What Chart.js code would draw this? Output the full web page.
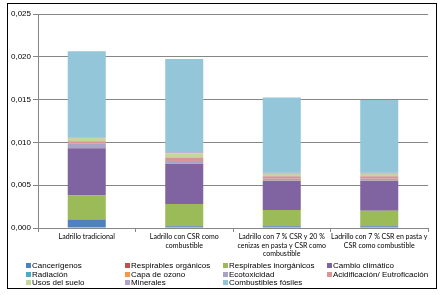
<!DOCTYPE html>
<html>
<head>
<meta charset="utf-8">
<script src="https://cdn.jsdelivr.net/npm/chart.js@4"></script>
<style>
  html, body { margin: 0; padding: 0; background: #fff; }
  #frame {
    position: absolute; left: 7px; top: 3px; width: 430px; height: 286px;
    border: 1px solid #000; box-sizing: border-box;
  }
  #wrap { position: absolute; left: 8px; top: 4px; width: 430px; height: 261px; }
  #legend {
    position: absolute; left: 0; top: 261px; width: 446px;
    font: 8px "Liberation Sans", Arial, sans-serif; color: #000;
  }
  .item { position: absolute; white-space: nowrap; line-height: 9px; }
  .item span.box { display: inline-block; width: 5px; height: 5px; margin-right: 1px; vertical-align: 0px; }
</style>
</head>
<body>
<div id="frame"></div>
<div id="wrap"><canvas id="chart"></canvas></div>
<div id="legend"></div>
<script>
const categories = [
  'Ladrillo tradicional',
  ['Ladrillo con CSR como', 'combustible'],
  ['Ladrillo con 7 % CSR y 20 %', 'cenizas en pasta y CSR como', 'combustible'],
  ['Ladrillo con 7 % CSR en pasta y', 'CSR como combustible']
];

const seriesNames = [
  'Cancerígenos', 'Respirables orgánicos', 'Respirables inorgánicos', 'Cambio climático',
  'Radiación', 'Capa de ozono', 'Ecotoxicidad', 'Acidificación/ Eutroficación',
  'Usos del suelo', 'Minerales', 'Combustibles fósiles'
];

const seriesColors = [
  '#4F81BD', '#C0504D', '#9BBB59', '#8064A2',
  '#4BACC6', '#F79646', '#A9A3C6', '#D99694',
  '#C3D69B', '#B3A2C7', '#93C6D9'
];

const cancerigenos = [0.0010, 0.0002, 0.0002, 0.0002];
const respOrganicos = [0.00001, 0.00001, 0.00001, 0.00001];
const respInorganicos = [0.0028, 0.0026, 0.0019, 0.0018];
const cambioClimatico = [0.0055, 0.0047, 0.0034, 0.0035];
const radiacion = [0.00002, 0.00002, 0.00002, 0.00002];
const capaOzono = [0.00001, 0.00001, 0.00001, 0.00001];
const ecotoxicidad = [0.0005, 0.0003, 0.0002, 0.0002];
const acidificacion = [0.0003, 0.0004, 0.0003, 0.0003];
const usosSuelo = [0.0004, 0.0005, 0.0003, 0.0003];
const minerales = [0.0001, 0.0001, 0.0001, 0.0001];
const combustiblesFosiles = [0.0100, 0.0109, 0.0088, 0.0085];

const seriesValues = [
  cancerigenos, respOrganicos, respInorganicos, cambioClimatico,
  radiacion, capaOzono, ecotoxicidad, acidificacion,
  usosSuelo, minerales, combustiblesFosiles
];

const yTicks = [0, 0.005, 0.010, 0.015, 0.020, 0.025];

const gridColor = '#868686';

new Chart(document.getElementById('chart'), {
  type: 'bar',
  data: {
    labels: categories,
    datasets: seriesNames.map((name, i) => ({
      label: name,
      data: seriesValues[i],
      backgroundColor: seriesColors[i],
      borderWidth: 0,
      barPercentage: 0.39,
      categoryPercentage: 1
    }))
  },
  options: {
    responsive: true,
    maintainAspectRatio: false,
    animation: false,
    layout: { padding: { top: 10, right: 10, bottom: 0, left: 0 } },
    plugins: {
      legend: { display: false },
      tooltip: { enabled: false }
    },
    scales: {
      x: {
        stacked: true,
        afterFit: (s) => { s.height = 37; },
        grid: { display: true, drawOnChartArea: false, offset: true, tickLength: 4, color: gridColor },
        border: { color: gridColor },
        ticks: {
          color: '#000',
          font: { family: 'Lato', size: 7 },
          maxRotation: 0,
          autoSkip: false,
          padding: 1
        }
      },
      y: {
        stacked: true,
        min: 0,
        max: 0.025,
        afterFit: (s) => { s.width = 30; },
        afterBuildTicks: (s) => { s.ticks = yTicks.map(v => ({ value: v })); },
        grid: { color: gridColor, tickLength: 5 },
        border: { color: gridColor },
        ticks: {
          color: '#000',
          font: { family: 'Liberation Sans', size: 8 },
          padding: 2,
          callback: (v) => v.toFixed(3).replace('.', ',')
        }
      }
    }
  }
});

// legend laid out as in the original: 4 columns, 3 rows
const legendCols = [26, 125, 223, 327];
const legendRows = [0, 8.5, 17];
const legend = document.getElementById('legend');
seriesNames.forEach((name, i) => {
  const el = document.createElement('div');
  el.className = 'item';
  el.style.left = legendCols[i % 4] + 'px';
  el.style.top = legendRows[Math.floor(i / 4)] + 'px';
  el.innerHTML = '<span class="box" style="background:' + seriesColors[i] + '"></span>' + name;
  legend.appendChild(el);
});
</script>
</body>
</html>
